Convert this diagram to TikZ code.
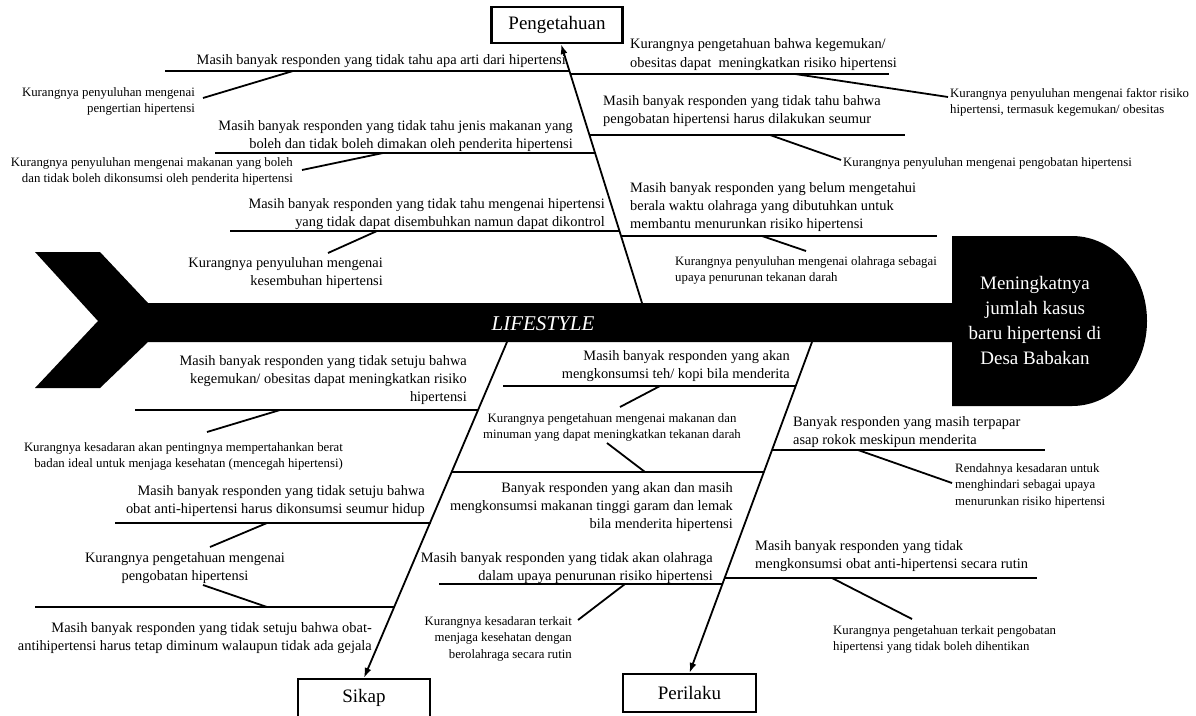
\documentclass[tikz,border=0pt]{standalone}
\usepackage{fontspec}
\setmainfont{Liberation Serif}
\usetikzlibrary{arrows.meta}
\newcommand{\mainsz}{\fontsize{14.4}{18}\selectfont}
\newcommand{\smallsz}{\fontsize{12.8}{16.5}\selectfont}
\tikzset{
  maintxt/.style={font=\mainsz, inner sep=0pt},
  smalltxt/.style={font=\smallsz, inner sep=0pt},
  bone/.style={line width=2.4pt},
  link/.style={line width=1.8pt},
  arr/.style={line width=1.8pt, -{Latex[length=10pt,width=7pt]}},
  catbox/.style={draw, line width=2.2pt, inner sep=0pt, fill=white, font=\fontsize{19}{22}\selectfont},
}
\begin{document}
\begin{tikzpicture}[x=1pt,y=-1pt]
\useasboundingbox[fill=white] (0,0) rectangle (1196,715);

% fish body
\fill (35,252) -- (100,252) -- (148,303) -- (952,303) -- (952,236) -- (1072,236)
  arc[start angle=90, end angle=-90, x radius=75pt, y radius=85pt]
  -- (952,406) -- (952,342) -- (148,342) -- (100,388) -- (35,388) -- (98,321) -- cycle;
\node[text=white, align=center, font=\fontsize{19}{25}\selectfont, inner sep=0pt] (head) at (1035,320)
  {Meningkatnya\\jumlah kasus\\baru hipertensi di\\Desa Babakan};
\node[text=white, font=\fontsize{21}{24}\selectfont\itshape, inner sep=0pt] (life) at (543,324) {LIFESTYLE};

% category boxes
\node[catbox, minimum width=131pt, minimum height=36pt] (pk) at (557,25) {Pengetahuan};
\node[catbox, minimum width=132pt, minimum height=38pt] (sk) at (364,698) {Sikap};
\node[catbox, minimum width=133pt, minimum height=38pt] (pr) at (689.5,693) {Perilaku};

% main arrows
\coordinate (pkS) at (642,303);
\coordinate (skS) at (507,342);
\coordinate (prS) at (812,342);
\draw[arr] (pkS) -- (pk.south -| 561,0);
\draw[arr] (skS) -- (sk.north);
\draw[arr] (prS) -- (pr.north);

% ---------- Pengetahuan, left ----------
\node[maintxt, anchor=north east] (a1) at (566,54) {Masih banyak responden yang tidak tahu apa arti dari hipertensi};
\coordinate (a1L) at (165,71); \coordinate (a1R) at (569.4,71);
\draw[bone] (a1L) -- (a1R);
\node[smalltxt, anchor=north east, align=right] (a1s) at (195,87) {Kurangnya penyuluhan mengenai\\pengertian hipertensi};
\coordinate (a1c1) at (203,98); \coordinate (a1c2) at (293,71);
\draw[link] (a1c1) -- (a1c2);

\node[maintxt, anchor=north east, align=right] (a2) at (573,120) {Masih banyak responden yang tidak tahu jenis makanan yang\\boleh dan tidak boleh dimakan oleh penderita hipertensi};
\coordinate (a2L) at (215,153); \coordinate (a2R) at (595.1,153);
\draw[bone] (a2L) -- (a2R);
\node[smalltxt, anchor=north east, align=right] (a2s) at (293,157) {Kurangnya penyuluhan mengenai makanan yang boleh\\dan tidak boleh dikonsumsi oleh penderita hipertensi};
\coordinate (a2c1) at (302,170); \coordinate (a2c2) at (383,153);
\draw[link] (a2c1) -- (a2c2);

\node[maintxt, anchor=north east, align=right] (a3) at (605,198) {Masih banyak responden yang tidak tahu mengenai hipertensi\\yang tidak dapat disembuhkan namun dapat dikontrol};
\coordinate (a3L) at (230,231); \coordinate (a3R) at (619.5,231);
\draw[bone] (a3L) -- (a3R);
\node[maintxt, anchor=north east, align=right] (a3s) at (383,257) {Kurangnya penyuluhan mengenai\\kesembuhan hipertensi};
\coordinate (a3c1) at (328,253); \coordinate (a3c2) at (377,231);
\draw[link] (a3c1) -- (a3c2);

% ---------- Pengetahuan, right ----------
\node[maintxt, anchor=north west, align=left, font=\fontsize{14.4}{19.5}\selectfont] (b1) at (630,38) {Kurangnya pengetahuan bahwa kegemukan/\\obesitas dapat\ \ meningkatkan risiko hipertensi};
\coordinate (b1L) at (570.4,74); \coordinate (b1R) at (889,74);
\draw[bone] (b1L) -- (b1R);
\node[smalltxt, anchor=north west, align=left] (b1s) at (950,88) {Kurangnya penyuluhan mengenai faktor risiko\\hipertensi, termasuk kegemukan/ obesitas};
\coordinate (b1c1) at (795,74); \coordinate (b1c2) at (948,97);
\draw[link] (b1c1) -- (b1c2);

\node[maintxt, anchor=north west, align=left] (b2) at (603,95) {Masih banyak responden yang tidak tahu bahwa\\pengobatan hipertensi harus dilakukan seumur};
\coordinate (b2L) at (589.5,135); \coordinate (b2R) at (905,135);
\draw[bone] (b2L) -- (b2R);
\node[smalltxt, anchor=north west] (b2s) at (843,157) {Kurangnya penyuluhan mengenai pengobatan hipertensi};
\coordinate (b2c1) at (770,135); \coordinate (b2c2) at (841,160);
\draw[link] (b2c1) -- (b2c2);

\node[maintxt, anchor=north west, align=left] (b3) at (630,182) {Masih banyak responden yang belum mengetahui\\berala waktu olahraga yang dibutuhkan untuk\\membantu menurunkan risiko hipertensi};
\coordinate (b3L) at (621,236); \coordinate (b3R) at (937,236);
\draw[bone] (b3L) -- (b3R);
\node[smalltxt, anchor=north west, align=left] (b3s) at (675,256) {Kurangnya penyuluhan mengenai olahraga sebagai\\upaya penurunan tekanan darah};
\coordinate (b3c1) at (762,236); \coordinate (b3c2) at (806,251);
\draw[link] (b3c1) -- (b3c2);

% ---------- Sikap, left ----------
\node[maintxt, anchor=north east, align=right] (c1) at (467,355) {Masih banyak responden yang tidak setuju bahwa\\kegemukan/ obesitas dapat meningkatkan risiko\\hipertensi};
\coordinate (c1L) at (135,410); \coordinate (c1R) at (478.3,410);
\draw[bone] (c1L) -- (c1R);
\node[smalltxt, anchor=north east, align=right] (c1s) at (343,442) {Kurangnya kesadaran akan pentingnya mempertahankan berat\\badan ideal untuk menjaga kesehatan (mencegah hipertensi)};
\coordinate (c1c1) at (207,432); \coordinate (c1c2) at (280,410);
\draw[link] (c1c1) -- (c1c2);

\node[maintxt, anchor=north east, align=right] (c2) at (425,485) {Masih banyak responden yang tidak setuju bahwa\\obat anti-hipertensi harus dikonsumsi seumur hidup};
\coordinate (c2L) at (115,523); \coordinate (c2R) at (430.7,523);
\draw[bone] (c2L) -- (c2R);
\node[maintxt, anchor=north, align=center] (c2s) at (185,552) {Kurangnya pengetahuan mengenai\\pengobatan hipertensi};
\coordinate (c2c1) at (267,523); \coordinate (c2c2) at (210,547);
\draw[link] (c2c1) -- (c2c2);
\coordinate (c3c1) at (203,585); \coordinate (c3c2) at (267,607);
\draw[link] (c3c1) -- (c3c2);

\coordinate (c3L) at (35,607); \coordinate (c3R) at (395.3,607);
\draw[bone] (c3L) -- (c3R);
\node[maintxt, anchor=north east, align=right] (c3) at (372,622) {Masih banyak responden yang tidak setuju bahwa obat-\\antihipertensi harus tetap diminum walaupun tidak ada gejala};

% ---------- between Sikap and Perilaku ----------
\node[maintxt, anchor=north east, align=right] (d1) at (790,350) {Masih banyak responden yang akan\\mengkonsumsi teh/ kopi bila menderita};
\coordinate (d1L) at (503,386); \coordinate (d1R) at (795.8,386);
\draw[bone] (d1L) -- (d1R);
\node[smalltxt, anchor=north, align=center] (d1s) at (612,413) {Kurangnya pengetahuan mengenai makanan dan\\minuman yang dapat meningkatkan tekanan darah};
\coordinate (d1c1) at (660,386); \coordinate (d1c2) at (620,407);
\draw[link] (d1c1) -- (d1c2);
\coordinate (d2c1) at (607,443); \coordinate (d2c2) at (645,472);
\draw[link] (d2c1) -- (d2c2);

\coordinate (d2L) at (452.2,472); \coordinate (d2R) at (764.2,472);
\draw[bone] (d2L) -- (d2R);
\node[maintxt, anchor=north east, align=right] (d2) at (733,482) {Banyak responden yang akan dan masih\\mengkonsumsi makanan tinggi garam dan lemak\\bila menderita hipertensi};

\node[maintxt, anchor=north east, align=right] (d3) at (713,552) {Masih banyak responden yang tidak akan olahraga\\dalam upaya penurunan risiko hipertensi};
\coordinate (d3L) at (439,584); \coordinate (d3R) at (723.1,584);
\draw[bone] (d3L) -- (d3R);
\node[smalltxt, anchor=north east, align=right] (d3s) at (572,616) {Kurangnya kesadaran terkait\\menjaga kesehatan dengan\\berolahraga secara rutin};
\coordinate (d3c1) at (578,620); \coordinate (d3c2) at (625,584);
\draw[link] (d3c1) -- (d3c2);

% ---------- Perilaku, right ----------
\node[maintxt, anchor=north west, align=left] (e1) at (793,416) {Banyak responden yang masih terpapar\\asap rokok meskipun menderita};
\coordinate (e1L) at (772.3,450); \coordinate (e1R) at (1045,450);
\draw[bone] (e1L) -- (e1R);
\node[smalltxt, anchor=north west, align=left] (e1s) at (955,463) {Rendahnya kesadaran untuk\\menghindari sebagai upaya\\menurunkan risiko hipertensi};
\coordinate (e1c1) at (858,450); \coordinate (e1c2) at (952,483);
\draw[link] (e1c1) -- (e1c2);

\node[maintxt, anchor=north west, align=left] (e2) at (755,540) {Masih banyak responden yang tidak\\mengkonsumsi obat anti-hipertensi secara rutin};
\coordinate (e2L) at (725.3,578); \coordinate (e2R) at (1037,578);
\draw[bone] (e2L) -- (e2R);
\node[smalltxt, anchor=north west, align=left] (e2s) at (833,625) {Kurangnya pengetahuan terkait pengobatan\\hipertensi yang tidak boleh dihentikan};
\coordinate (e2c1) at (832,578); \coordinate (e2c2) at (912,619);
\draw[link] (e2c1) -- (e2c2);
\end{tikzpicture}
\end{document}
